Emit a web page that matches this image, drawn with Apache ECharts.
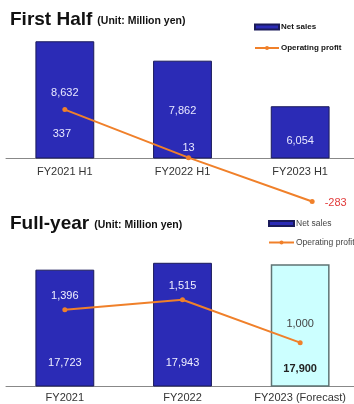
<!DOCTYPE html>
<html><head><meta charset="utf-8">
<script src="https://cdn.jsdelivr.net/npm/echarts@6/dist/echarts.min.js"></script>
<style>html,body{margin:0;padding:0;background:#fff}#c{width:354px;height:404px}</style>
</head><body><div id="c"></div>
<script>
// ---- data ----
const halfCategories = ['FY2021 H1', 'FY2022 H1', 'FY2023 H1'];
const halfNetSales = [8632, 7862, 6054];
const halfOpProfit = [337, 13, -283];
const yearCategories = ['FY2021', 'FY2022', 'FY2023 (Forecast)'];
const yearNetSales = [17723, 17943, 17900];
const yearOpProfit = [1396, 1515, 1000];
const seriesNames = ['Net sales', 'Operating profit'];

// ---- styles ----
const BAR = '#2B2BB6', BAR_BORDER = '#1a1a5a', ORANGE = '#F0802A';
const FONT = 'Liberation Sans, Arial, sans-serif';
const fmt = v => v.toLocaleString('en-US');

const halfBarLabelDist = [60, 42, 12];
const halfLineLabel = [
  {position: 'bottom', distance: 16, offset: [-3, 0], color: '#E8E8FF'},
  {position: 'top', distance: 2, offset: [0, 0], color: '#E8E8FF'},
  {position: 'right', distance: 10, offset: [0, 1], color: '#E23A3A'}
];
const yearBarLabel = [
  {distance: 18, color: '#F0F0FF'},
  {distance: 18, color: '#F0F0FF'},
  {distance: 12, color: '#222'}
];
const yearLineLabel = [
  {distance: 6, color: '#F0F0FF'},
  {distance: 6, color: '#F0F0FF'},
  {distance: 11, color: '#444'}
];

const chart = echarts.init(document.getElementById('c'), null, {renderer: 'canvas'});

function titleText(a) {
  return '{a|' + a + '} {b|(Unit: Million yen)}';
}
const titleRich = {
  a: {fontSize: 19, fontWeight: 'bold', color: '#111', fontFamily: FONT, verticalAlign: 'bottom', lineHeight: 22},
  b: {fontSize: 10.5, fontWeight: 'bold', color: '#111', fontFamily: FONT, verticalAlign: 'bottom', lineHeight: 22, padding: [0, 0, 2, 0]}
};

const catAxis = (grid, data, show, margin) => ({
  type: 'category', gridIndex: grid, data: data, show: show,
  axisLine: {show: true, lineStyle: {color: '#888', width: 1}},
  axisTick: {show: false},
  axisLabel: {color: '#333', fontSize: 11, fontFamily: FONT, margin: margin, interval: 0}
});
const valAxis = (grid, min, max) => ({
  type: 'value', gridIndex: grid, min: min, max: max, show: false,
  splitLine: {show: false}
});

chart.setOption({
  animation: false,
  textStyle: {fontFamily: FONT},
  title: [
    {text: titleText('First Half'), left: 5, top: 2, padding: [5, 5, 5, 5], textStyle: {rich: titleRich}},
    {text: titleText('Full-year'), left: 5, top: 206, padding: [5, 5, 5, 5], textStyle: {rich: titleRich}}
  ],
  legend: [
    {data: [{name: seriesNames[0], icon: 'rect'}, {name: seriesNames[1]}], orient: 'vertical', left: 254, top: 23, padding: 0,
     itemWidth: 24, itemHeight: 5, itemGap: 13,
     textStyle: {fontSize: 8, fontWeight: 'bold', color: '#111', padding: [0, 0, 0, -3]}, selectedMode: false},
    {data: [{name: seriesNames[0], icon: 'rect'}, {name: seriesNames[1]}], orient: 'vertical', left: 268, top: 219, padding: 0,
     itemWidth: 25, itemHeight: 5, itemGap: 10,
     textStyle: {fontSize: 8.5, color: '#444', padding: [0, 0, 0, -3]}, selectedMode: false}
  ],
  grid: [
    {left: 6, top: 32, width: 353, height: 126, outerBoundsMode: 'none', containLabel: false},
    {left: 3, top: 32, width: 371, height: 178, outerBoundsMode: 'none', containLabel: false},
    {left: 6, top: 261, width: 353, height: 125, outerBoundsMode: 'none', containLabel: false}
  ],
  xAxis: [
    catAxis(0, halfCategories, true, 8),
    catAxis(1, halfCategories, false, 8),
    catAxis(2, yearCategories, true, 6)
  ],
  yAxis: [
    valAxis(0, 4000, 9000),
    valAxis(1, -340, 860),
    valAxis(2, 14000, 18000),
    valAxis(2, 480, 1980)
  ],
  series: [
    {
      name: seriesNames[0], type: 'bar', xAxisIndex: 0, yAxisIndex: 0, barWidth: '50%',
      itemStyle: {color: BAR, borderColor: BAR_BORDER, borderWidth: 1},
      data: halfNetSales.map((v, i) => ({
        value: v,
        label: {show: true, position: 'insideBottom', distance: halfBarLabelDist[i],
                formatter: fmt(v), color: '#E8E8FF', fontSize: 11}
      }))
    },
    {
      name: seriesNames[1], type: 'line', xAxisIndex: 1, yAxisIndex: 1, clip: false,
      symbol: 'circle', symbolSize: 5, z: 5,
      lineStyle: {color: ORANGE, width: 2}, itemStyle: {color: ORANGE},
      data: halfOpProfit.map((v, i) => ({
        value: v,
        label: Object.assign({show: true, formatter: fmt(v), fontSize: 11}, halfLineLabel[i])
      }))
    },
    {
      name: seriesNames[0], type: 'bar', xAxisIndex: 2, yAxisIndex: 2, barWidth: '50%',
      itemStyle: {color: BAR, borderColor: BAR_BORDER, borderWidth: 1},
      data: yearNetSales.map((v, i) => ({
        value: v,
        itemStyle: i === 2 ? {color: '#CCFFFF', borderColor: '#5F7373', borderWidth: 1.5} : undefined,
        label: {show: true, position: 'insideBottom', distance: yearBarLabel[i].distance,
                formatter: fmt(v), color: yearBarLabel[i].color, fontSize: 11, fontWeight: i === 2 ? 'bold' : 'normal'}
      }))
    },
    {
      name: seriesNames[1], type: 'line', xAxisIndex: 2, yAxisIndex: 3, clip: false,
      symbol: 'circle', symbolSize: 5, z: 5,
      lineStyle: {color: ORANGE, width: 2}, itemStyle: {color: ORANGE},
      data: yearOpProfit.map((v, i) => ({
        value: v,
        label: {show: true, position: 'top', distance: yearLineLabel[i].distance,
                formatter: fmt(v), color: yearLineLabel[i].color, fontSize: 11}
      }))
    }
  ]
});
</script></body></html>
